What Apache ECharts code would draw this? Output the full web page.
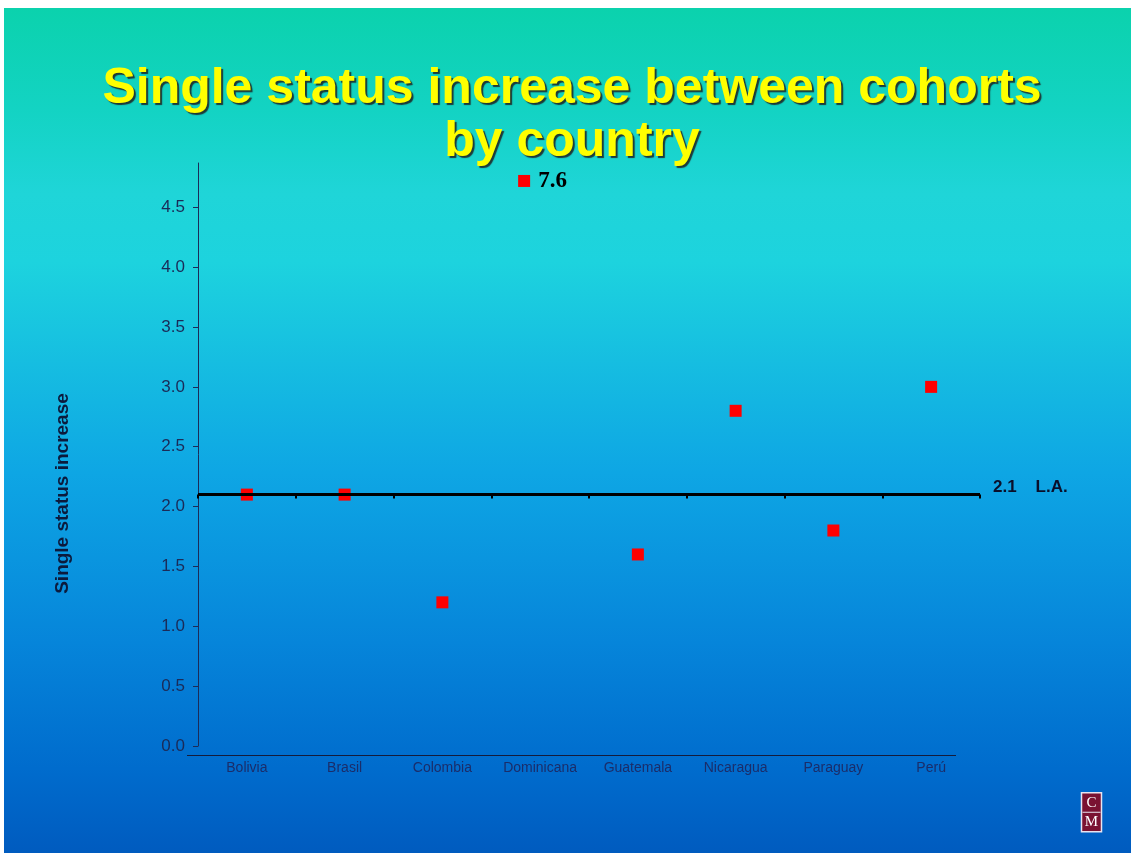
<!DOCTYPE html>
<html>
<head>
<meta charset="utf-8">
<title>Single status increase between cohorts by country</title>
<script src="https://cdn.jsdelivr.net/npm/echarts@6/dist/echarts.min.js"></script>
<style>
  html, body { margin: 0; padding: 0; background: #ffffff; }
  #slide {
    position: absolute; left: 4px; top: 8px; width: 1127px; height: 845px;
    background: linear-gradient(to bottom,
      #0bd2ad 0%, #13d3c3 12%, #1fd5d8 22%, #1dd3de 30%,
      #0ea6e4 55%, #0685da 75%, #006ccd 90%, #005bbf 100%);
  }
  #chart { position: absolute; left: 0; top: 0; width: 1131px; height: 853px; }
</style>
</head>
<body>
<div id="slide"></div>
<div id="chart"></div>
<script>
// Countries on the horizontal axis
const categories = ['Bolivia', 'Brasil', 'Colombia', 'Dominicana', 'Guatemala', 'Nicaragua', 'Paraguay', 'Perú'];
// Increase in single status between cohorts, per country
const singleIncrease = [2.1, 2.1, 1.2, 7.6, 1.6, 2.8, 1.8, 3.0];
// Latin American average
const LA_AVG = 2.1;
// Value axis ticks
const yTicks = [0, 0.5, 1.0, 1.5, 2.0, 2.5, 3.0, 3.5, 4.0, 4.5];
const Y_MAX = 4.87;
// Values beyond the axis are pinned at this height and carry their own label
const OFFSCALE_Y = 4.72;

const navy = '#1b2b58';

const points = singleIncrease.map((v, i) => {
  if (v > Y_MAX) {
    return {
      value: [i, OFFSCALE_Y],
      symbolOffset: [-16, 0],
      label: {
        show: true,
        position: 'right',
        distance: 8,
        formatter: () => v.toFixed(1),
        fontFamily: '"Liberation Serif", "Times New Roman", serif',
        fontWeight: 'bold',
        fontSize: 23,
        color: '#000000'
      }
    };
  }
  return [i, v];
});

const chart = echarts.init(document.getElementById('chart'), null, { renderer: 'canvas' });

const option = {
  animation: false,
  backgroundColor: 'transparent',
  title: {
    text: 'Single status increase between cohorts\nby country',
    left: 572,
    top: 63,
    padding: 0,
    textAlign: 'center',
    textStyle: {
      fontFamily: '"Liberation Sans", Arial, sans-serif',
      fontWeight: 'bold',
      fontSize: 50,
      lineHeight: 53,
      color: '#ffff00',
      textShadowColor: 'rgba(30,30,30,0.85)',
      textShadowOffsetX: 2,
      textShadowOffsetY: 2,
      textShadowBlur: 1
    }
  },
  grid: { left: 198, right: 151, top: 163, bottom: 107, containLabel: false },
  xAxis: [
    {
      type: 'category',
      data: categories,
      position: 'bottom',
      axisLine: { show: false, onZero: false },
      axisTick: { show: false },
      splitLine: { show: false },
      axisLabel: {
        margin: 15,
        fontFamily: '"Liberation Sans", Arial, sans-serif',
        fontSize: 14,
        color: '#1a2d6a'
      }
    },
    {
      // Average line tick marks, lifted to the average level after the first layout
      type: 'category',
      data: categories,
      position: 'bottom',
      offset: 0,
      axisLine: { show: false, onZero: false },
      axisTick: { show: true, length: 4, lineStyle: { color: '#000000', width: 2 } },
      axisLabel: { show: false },
      splitLine: { show: false }
    }
  ],
  yAxis: {
    type: 'value',
    min: 0,
    max: Y_MAX,
    name: 'Single status increase',
    nameLocation: 'middle',
    nameGap: 126,
    nameRotate: 90,
    nameTextStyle: {
      fontFamily: '"Liberation Sans", Arial, sans-serif',
      fontWeight: 'bold',
      fontSize: 19,
      color: '#0c1a3c',
      padding: [0, 78, 0, 0]
    },
    axisLine: { show: true, lineStyle: { color: navy, width: 1 } },
    axisTick: { show: true, length: 5, customValues: yTicks, lineStyle: { color: navy } },
    splitLine: { show: false },
    axisLabel: {
      customValues: yTicks,
      margin: 13,
      formatter: v => v.toFixed(1),
      fontFamily: '"Liberation Sans", Arial, sans-serif',
      fontSize: 17,
      color: navy
    }
  },
  series: [
    {
      type: 'scatter',
      xAxisIndex: 0,
      yAxisIndex: 0,
      symbol: 'rect',
      symbolSize: 12,
      itemStyle: { color: '#ff0000', opacity: 1 },
      data: points,
      markLine: {
        silent: true,
        symbol: ['none', 'none'],
        lineStyle: { color: '#000000', width: 3, type: 'solid' },
        label: {
          show: true,
          position: 'end',
          distance: 13,
          verticalAlign: 'bottom',
          lineHeight: 15,
          formatter: () => LA_AVG.toFixed(1) + '    L.A.',
          fontFamily: '"Liberation Sans", Arial, sans-serif',
          fontWeight: 'bold',
          fontSize: 17,
          color: '#0a0f2a'
        },
        emphasis: { disabled: true },
        data: [{ yAxis: LA_AVG }]
      }
    }
  ],
  graphic: [
    {
      // baseline rule under the country names
      type: 'line',
      silent: true,
      shape: { x1: 187, y1: 755.5, x2: 956, y2: 755.5 },
      style: { stroke: '#141c3c', lineWidth: 1.2 }
    },
    {
      // small publisher mark in the corner
      type: 'group',
      left: 1080,
      top: 792,
      silent: true,
      children: [
        { type: 'rect', shape: { x: 0, y: 0, width: 20, height: 39 },
          style: { fill: '#7a1232', stroke: '#e8e4f0', lineWidth: 1.5 } },
        { type: 'line', shape: { x1: 1, y1: 19.5, x2: 19, y2: 19.5 },
          style: { stroke: '#e8e4f0', lineWidth: 1 } },
        { type: 'text', x: 10, y: 10,
          style: { text: 'C', fill: '#ffffff', font: '15px "Liberation Serif", serif', align: 'center', verticalAlign: 'middle' } },
        { type: 'text', x: 10, y: 29.5,
          style: { text: 'M', fill: '#ffffff', font: '15px "Liberation Serif", serif', align: 'center', verticalAlign: 'middle' } }
      ]
    }
  ]
};

chart.setOption(option);

// Move the tick-only axis up to the level of the Latin American average
const avgPix = chart.convertToPixel({ yAxisIndex: 0 }, LA_AVG);
const zeroPix = chart.convertToPixel({ yAxisIndex: 0 }, 0);
chart.setOption({ xAxis: [{}, { offset: avgPix - zeroPix }] });
</script>
</body>
</html>
